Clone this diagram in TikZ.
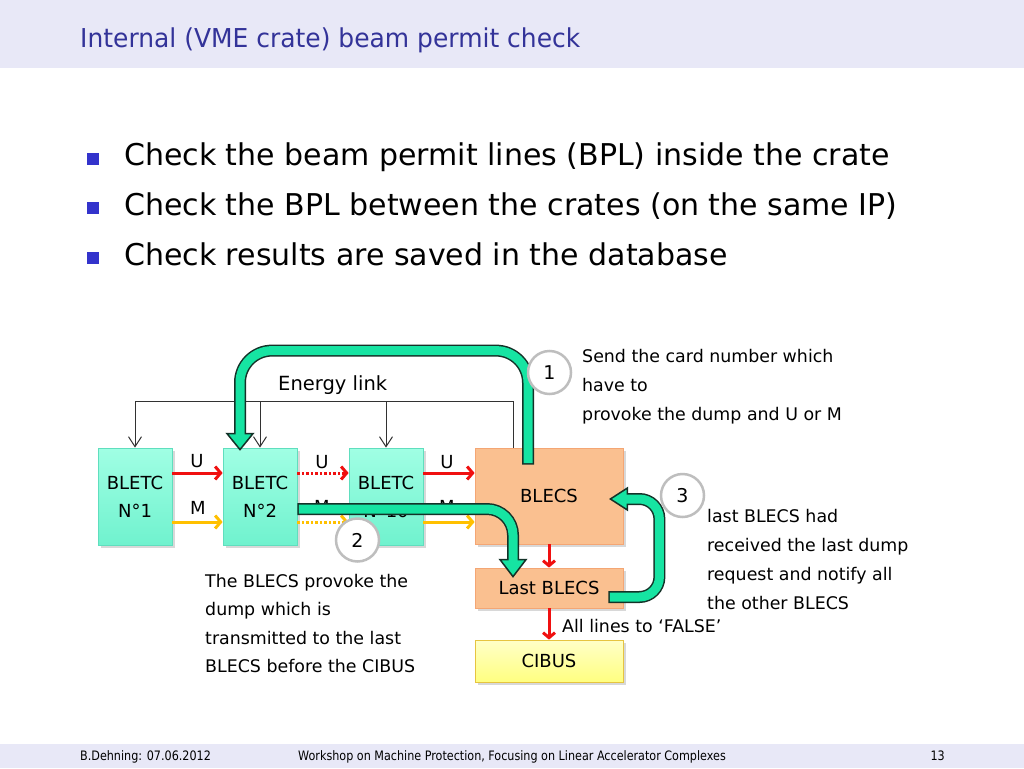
\documentclass[tikz,border=0pt]{standalone}
\usepackage{fontspec}
\setmainfont{DejaVu Sans}
\newfontfamily\tahoma[FakeStretch=0.86]{DejaVu Sans}
\newfontfamily\tahomat[FakeStretch=0.96]{DejaVu Sans}
\usetikzlibrary{arrows.meta,shadows,calc}
\definecolor{hdr}{RGB}{232,232,247}
\definecolor{ttl}{RGB}{51,51,153}
\definecolor{bul}{RGB}{51,51,204}
\definecolor{tealtop}{RGB}{160,255,228}
\definecolor{tealbot}{RGB}{112,242,206}
\definecolor{tealedge}{RGB}{96,222,190}
\definecolor{peach}{RGB}{250,192,144}
\definecolor{peachedge}{RGB}{244,166,116}
\definecolor{yeltop}{RGB}{255,255,200}
\definecolor{yelbot}{RGB}{255,255,128}
\definecolor{yeledge}{RGB}{230,196,64}
\definecolor{redl}{RGB}{240,16,16}
\definecolor{orl}{RGB}{255,192,0}
\definecolor{gfill}{RGB}{22,228,162}
\definecolor{gdark}{RGB}{20,50,40}
\definecolor{cgray}{RGB}{190,190,190}
\definecolor{elk}{RGB}{50,50,50}
\begin{document}
\begin{tikzpicture}[x=1pt,y=-1pt,
  boxbase/.style={rectangle, inner sep=0pt, line width=0.8pt, align=center,
    font=\fontsize{18}{28}\selectfont,
    drop shadow={opacity=0.3, shadow xshift=2.5pt, shadow yshift=-2.5pt}},
  bletc/.style={boxbase, minimum width=74pt, minimum height=97pt,
    draw=tealedge, top color=tealtop, bottom color=tealbot},
  blecs/.style={boxbase, minimum width=148pt, draw=peachedge, fill=peach},
  cibus/.style={boxbase, minimum width=148pt, minimum height=42pt,
    draw=yeledge, top color=yeltop, bottom color=yelbot},
  lbl/.style={inner sep=0pt, font=\fontsize{18}{20}\selectfont},
  note/.style={inner sep=0pt, anchor=base west, align=left},
  bpl/.style={line width=3pt, -{Straight Barb[length=5.5pt,width=13pt]}},
  vbpl/.style={line width=3pt, -{Straight Barb[length=5pt,width=12pt]}},
  elink/.style={draw=elk, line width=1pt},
  elarrow/.style={elink, -{Straight Barb[length=10pt,width=13pt,line width=1pt]}},
  gout/.style={draw=gdark, line width=12pt},
  gin/.style={draw=gfill, line width=9pt},
  ghead/.style={fill=gfill, draw=gdark, line width=1.5pt, line join=miter},
  num/.style={circle, draw=cgray, line width=2.5pt, fill=white, minimum size=43pt,
    inner sep=0pt, font=\fontsize{19}{20}\selectfont},
  bullet/.style={rectangle, fill=bul, minimum size=12pt, inner sep=0pt},
  btext/.style={inner sep=0pt, anchor=base west, font=\fontsize{30}{38}\selectfont},
  foot/.style={inner sep=0pt, font=\tahoma\fontsize{13}{15}\selectfont}
]
\useasboundingbox (0,0) rectangle (1024,768);
\fill[white] (0,0) rectangle (1024,768);
\fill[hdr] (0,0) rectangle (1024,68);
\fill[hdr] (0,744) rectangle (1024,768);

\node[inner sep=0pt, anchor=base west, text=ttl, font=\tahomat\fontsize{26}{30}\selectfont] (title) at (80,48) {Internal (VME crate) beam permit check};

\node[bullet] (b1) at (93,158.5) {};
\node[bullet] (b2) at (93,208) {};
\node[bullet] (b3) at (93,258) {};
\node[btext] (t1) at (124,165) {Check the beam permit lines (BPL) inside the crate};
\node[btext] (t2) at (124,215) {Check the BPL between the crates (on the same IP)};
\node[btext] (t3) at (124,265) {Check results are saved in the database};

% boxes
\node[bletc] (N1) at (135,496.5) {BLETC\\N°1};
\node[bletc] (N2) at (260,496.5) {BLETC\\N°2};
\node[bletc] (N10) at (386,496.5) {BLETC\\N°10};
\node[blecs, minimum height=96pt] (BLECS) at (549,496) {BLECS};
\node[blecs, minimum height=40pt] (LAST) at (549,588) {Last BLECS};
\node[cibus] (CIBUS) at (549,661) {CIBUS};

% energy link
\coordinate (EL) at (135,401);
\coordinate (ER) at (513,401);
\draw[elink] (EL) -- (ER) -- (ER |- BLECS.north);
\draw[elarrow] (EL) -- (N1.north);
\draw[elarrow] (N2.north |- EL) -- (N2.north);
\draw[elarrow] (N10.north |- EL) -- (N10.north);
\node[note, font=\fontsize{19.5}{22}\selectfont] (elabel) at (278,390) {Energy link};

% U / M lines
\draw[bpl, redl] ([yshift=23.5pt]N1.east) -- ([yshift=23.5pt]N2.west);
\draw[bpl, orl] ([yshift=-25.5pt]N1.east) -- ([yshift=-25.5pt]N2.west);
\draw[bpl, redl, dash pattern=on 2.5pt off 2pt] ([yshift=23.5pt]N2.east) -- ([yshift=23.5pt]N10.west);
\draw[bpl, orl, dash pattern=on 2.5pt off 2pt] ([yshift=-25.5pt]N2.east) -- ([yshift=-25.5pt]N10.west);
\draw[bpl, redl] ([yshift=23.5pt]N10.east) -- ([yshift=23.5pt]N10.east -| BLECS.west);
\draw[bpl, orl] ([yshift=-25.5pt]N10.east) -- ([yshift=-25.5pt]N10.east -| BLECS.west);
\node[lbl] (u1) at (197,461) {U};
\node[lbl] (m1) at (198,508) {M};
\node[lbl] (u2) at (322,462) {U};
\node[lbl] (m2) at (322,507) {M};
\node[lbl] (u3) at (447,462) {U};
\node[lbl] (m3) at (447,507) {M};

% red vertical arrows
\draw[vbpl, redl] (BLECS.south) -- (LAST.north);
\draw[vbpl, redl] (LAST.south) -- (CIBUS.north);
\node[note, font=\fontsize{17.4}{20}\selectfont] (false) at (562,632) {All lines to ‘FALSE’};

% green arrow 1 : BLECS -> N2
\path (BLECS.north) ++(-21,17) coordinate (g1s);
\path (N2.north) ++(-20,2) coordinate (g1t);
\draw[gout, rounded corners=32pt] (g1s) -- ++(0,-114) -- ++(-288,0) -- ($(g1t)+(0,-16)$);
\filldraw[ghead] ($(g1t)+(-13,-16)$) -- ($(g1t)+(13,-16)$) -- (g1t) -- cycle;
\draw[gin, rounded corners=32pt, shorten <=1.5pt] (g1s) -- ++(0,-114) -- ++(-288,0) -- ($(g1t)+(0,-14)$);

% green arrow 2 : N2 -> Last BLECS
\path (N2.east) ++(0,12.5) coordinate (g2s);
\path (LAST.north) ++(-36,9) coordinate (g2t);
\draw[gout, rounded corners=26pt] (g2s) -- (g2s -| g2t) -- ($(g2t)+(0,-17)$);
\filldraw[ghead] ($(g2t)+(-13,-17)$) -- ($(g2t)+(13,-17)$) -- (g2t) -- cycle;
\draw[gin, rounded corners=26pt, shorten <=1.5pt] (g2s) -- (g2s -| g2t) -- ($(g2t)+(0,-15)$);

% green arrow 3 : Last BLECS -> BLECS
\path (LAST.east) ++(-15,9) coordinate (g3s);
\path (BLECS.east) ++(-13,3) coordinate (g3t);
\draw[gout, rounded corners=20pt] (g3s) -- ++(51,0) -- ++(0,-98) -- ($(g3t)+(17,0)$);
\filldraw[ghead] ($(g3t)+(17,-11)$) -- ($(g3t)+(17,11)$) -- (g3t) -- cycle;
\draw[gin, rounded corners=20pt, shorten <=1.5pt] (g3s) -- ++(51,0) -- ++(0,-98) -- ($(g3t)+(15,0)$);

% numbered circles
\node[num] (c1) at (549.5,372.5) {1};
\node[num] (c2) at (357.5,540) {2};
\node[num] (c3) at (682.5,495.5) {3};

% notes (base anchor = baseline of the last line)
\node[note, font=\fontsize{17.4}{29}\selectfont] (n1) at (582,420) {Send the card number which\\have to\\provoke the dump and U or M};
\node[note, font=\fontsize{17.4}{28.5}\selectfont] (n2) at (205,672.5) {The BLECS provoke the\\dump which is\\transmitted to the last\\BLECS before the CIBUS};
\node[note, font=\fontsize{17.4}{29}\selectfont] (n3) at (707,609) {last BLECS had\\received the last dump\\request and notify all\\the other BLECS};

% footer
\node[foot, anchor=base west] (f1) at (80,760) {B.Dehning: 07.06.2012};
\node[foot, anchor=base west] (f2) at (298,760) {Workshop on Machine Protection, Focusing on Linear Accelerator Complexes};
\node[foot, anchor=base east] (f3) at (945,760) {13};
\end{tikzpicture}
\end{document}
